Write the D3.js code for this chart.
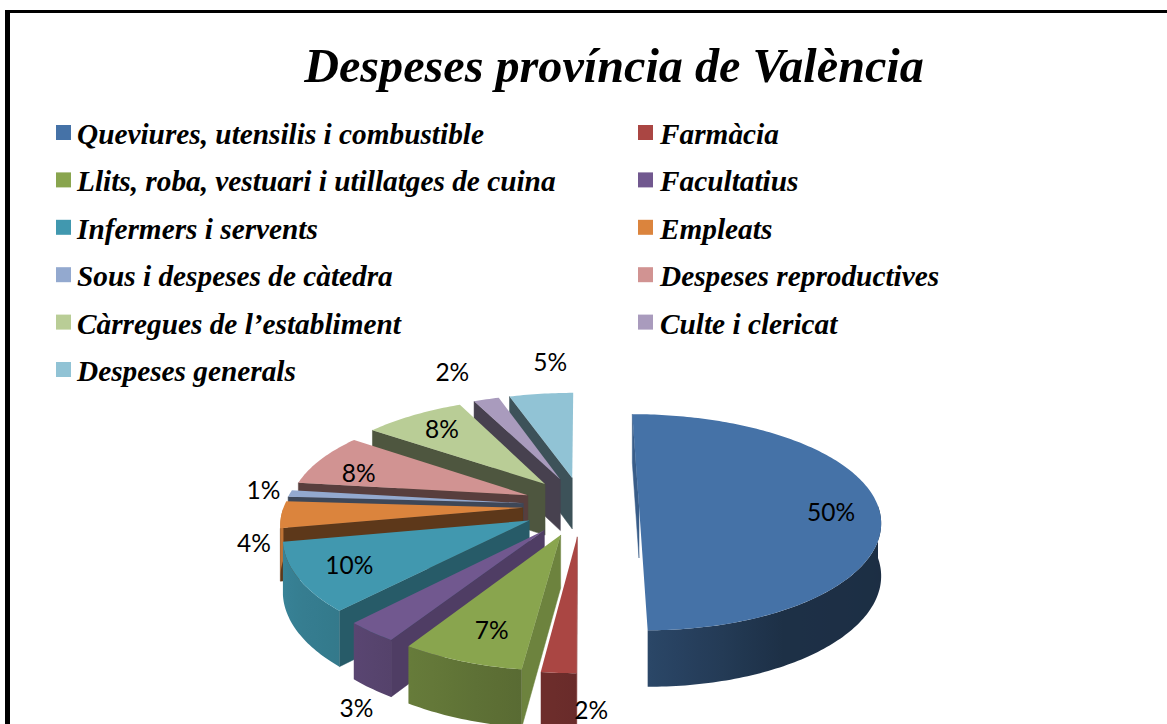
<!DOCTYPE html>
<html>
<head>
<meta charset="utf-8">
<script src="https://cdn.jsdelivr.net/npm/d3@7"></script>
<style>
  html, body { margin: 0; padding: 0; background: #fff; overflow: hidden; }
  svg { display: block; }
</style>
</head>
<body>
<svg id="chart" width="1167" height="724"></svg>
<script>
// dades
var categories = [
  "Queviures, utensilis i combustible", "Farmàcia",
  "Llits, roba, vestuari i utillatges de cuina", "Facultatius",
  "Infermers i servents", "Empleats",
  "Sous i despeses de càtedra", "Despeses reproductives",
  "Càrregues de l’establiment", "Culte i clericat",
  "Despeses generals"
];
var values = [50, 2, 7, 3, 10, 4, 1, 8, 8, 2, 5];
var colors = ["#4572A7", "#AA4643", "#89A54E", "#71588F", "#4198AF", "#DB843D",
              "#93A9CF", "#D19392", "#B9CD96", "#A99BBD", "#91C3D5"];
// desplaçament de cada etiqueta respecte del vèrtex de la porció
var labelOffsets = [[192, 5], [14, 173], [-69, 95], [-188, 177], [-180, 44], [-269, 35],
                    [-260, -14], [-169, -23], [-103, -55], [-108, -108], [-22, -116]];

var svg = d3.select("#chart");
var defs = svg.append("defs");
var serif = "'Liberation Serif', 'Times New Roman', serif";

// marc
svg.append("rect").attr("x", 5).attr("y", 10).attr("width", 5).attr("height", 714).attr("fill", "#000");
svg.append("rect").attr("x", 5).attr("y", 10).attr("width", 1162).attr("height", 3).attr("fill", "#000");

// titol
svg.append("text")
  .attr("x", 614).attr("y", 82)
  .attr("text-anchor", "middle")
  .attr("font-family", serif)
  .attr("font-weight", "bold").attr("font-style", "italic")
  .attr("font-size", 48.2)
  .text("Despeses província de València");

// llegenda, dues columnes
var colX = d3.scaleOrdinal().domain([0, 1]).range([56, 638]);
var rowY = d3.scaleLinear().domain([0, 5]).range([144, 381]);

var legend = svg.selectAll("g.legend").data(categories).enter().append("g").attr("class", "legend")
  .attr("transform", function (d, i) {
    return "translate(" + colX(i % 2) + "," + rowY(Math.floor(i / 2)) + ")";
  });
legend.append("rect")
  .attr("x", 0).attr("y", -19).attr("width", 15).attr("height", 15)
  .attr("fill", function (d, i) { return colors[i]; });
legend.append("text")
  .attr("x", function (d, i) { return i % 2 ? 22 : 21; })
  .attr("font-family", serif)
  .attr("font-weight", "bold").attr("font-style", "italic")
  .attr("font-size", 29.3)
  .text(function (d) { return d; });

// pastis 3D separat
var centerX = 581, centerY = 506;
var radiusX = 239, radiusY = 105.6;
var explodeX = 58, explodeV = 0.28;
var wallHeight = 52;

var pie = d3.pie().sort(null);
var slices = pie(values);

// posicio a la pantalla d'un punt del pla del pastis (perspectiva simple)
function project(mid, a, r) {
  var u = explodeX * Math.sin(mid) + radiusX * r * Math.sin(a);
  var v = explodeV * Math.cos(mid) + r * Math.cos(a);
  var sx = 1 / (1 + 0.13 * v), sy = 1 / (1 + 0.15 * v);
  return { x: centerX + u * sx, y: centerY - radiusY * v * sy, h: wallHeight * (1 + (sy - 1) * 0.5) };
}

var line = d3.line().x(function (p) { return p[0]; }).y(function (p) { return p[1]; });

var outerShade = d3.scaleLinear().domain([90, 150, 180, 225, 260]).range([0.4, 0.42, 0.62, 0.8, 0.87]).clamp(true);
var edgeShade = d3.scaleLinear().domain([180, 212, 225, 260]).range([0.82, 0.7, 0.58, 0.42]).clamp(true);

function shade(color, k) {
  var c = d3.rgb(color);
  return d3.rgb(c.r * k, c.g * k, c.b * k).formatHex();
}
function degrees(a) { return a * 180 / Math.PI; }

// primer les porcions de darrere
var order = d3.range(slices.length).sort(function (a, b) {
  var ma = (slices[a].startAngle + slices[a].endAngle) / 2;
  var mb = (slices[b].startAngle + slices[b].endAngle) / 2;
  return Math.cos(mb) - Math.cos(ma);
});

var step = Math.PI / 180;

order.forEach(function (i) {
  var s = slices[i];
  var mid = (s.startAngle + s.endAngle) / 2;
  var g = svg.append("g");
  var apex = project(mid, 0, 0);

  // paret radial
  var edge = project(mid, s.startAngle, 1);
  var edgeColor = shade(colors[i], edgeShade(degrees(s.startAngle)));
  g.append("path")
    .attr("d", line([[apex.x, apex.y], [edge.x, edge.y], [edge.x, edge.y + edge.h], [apex.x, apex.y + apex.h]]) + "Z")
    .attr("fill", edgeColor).attr("stroke", edgeColor).attr("stroke-width", 0.5);

  // paret exterior amb degradat, nomes la part que mira endavant
  var from = Math.max(s.startAngle, Math.PI / 2), to = Math.min(s.endAngle, Math.PI * 3 / 2);
  if (to > from) {
    var n = Math.max(2, Math.ceil((to - from) / step));
    var rim = d3.range(n + 1).map(function (k) {
      var a = from + (to - from) * k / n;
      var p = project(mid, a, 1);
      p.a = a;
      return p;
    });
    var x0 = rim[0].x, x1 = rim[n].x;
    var grad = defs.append("linearGradient")
      .attr("id", "wall" + i)
      .attr("gradientUnits", "userSpaceOnUse")
      .attr("x1", x0).attr("y1", 0).attr("x2", x1).attr("y2", 0);
    rim.filter(function (p, k) { return k % 5 === 0 || k === n; }).forEach(function (p) {
      grad.append("stop")
        .attr("offset", (p.x - x0) / (x1 - x0))
        .attr("stop-color", shade(colors[i], outerShade(degrees(p.a))));
    });
    var outline = rim.map(function (p) { return [p.x, p.y]; })
      .concat(rim.slice().reverse().map(function (p) { return [p.x, p.y + p.h]; }));
    g.append("path").attr("d", line(outline) + "Z").attr("fill", "url(#wall" + i + ")");
  }

  // cara de dalt
  var pts = [[apex.x, apex.y]];
  var m = Math.max(2, Math.ceil((s.endAngle - s.startAngle) / step));
  d3.range(m + 1).forEach(function (k) {
    var t = project(mid, s.startAngle + (s.endAngle - s.startAngle) * k / m, 1);
    pts.push([t.x, t.y]);
  });
  g.append("path").attr("d", line(pts) + "Z").attr("fill", colors[i]);
});

// etiquetes
svg.selectAll("text.value").data(slices).enter().append("text")
  .attr("class", "value")
  .attr("x", function (d, i) {
    return project((d.startAngle + d.endAngle) / 2, 0, 0).x + labelOffsets[i][0];
  })
  .attr("y", function (d, i) {
    return project((d.startAngle + d.endAngle) / 2, 0, 0).y + labelOffsets[i][1];
  })
  .attr("text-anchor", "middle")
  .attr("dominant-baseline", "central")
  .attr("font-family", "Lato, 'Open Sans', sans-serif")
  .attr("font-size", 24.5)
  .attr("fill", "#000")
  .text(function (d) { return d.value + "%"; });
</script>
</body>
</html>
